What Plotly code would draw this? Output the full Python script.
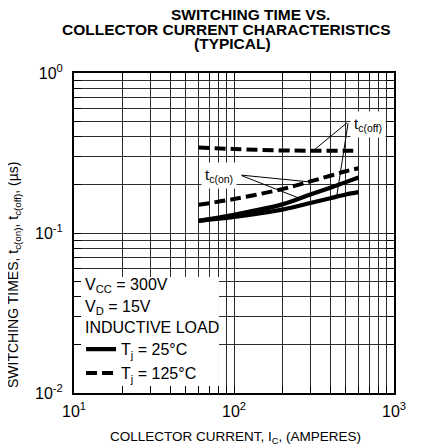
import math
import plotly.graph_objects as go

# ---- data ----
ic = [60, 100, 200, 300, 400, 500, 600]                       # collector current (A)
tc_on_25 = [0.119, 0.130, 0.151, 0.174, 0.192, 0.208, 0.222]   # us
tc_off_25 = [0.119, 0.126, 0.140, 0.154, 0.165, 0.174, 0.180]  # us
tc_on_125 = [0.150, 0.163, 0.188, 0.210, 0.228, 0.243, 0.254]  # us
tc_off_125 = [0.342, 0.335, 0.328, 0.327, 0.327, 0.327, 0.327] # us

x_tickvals = [m * 10 ** e for e in (1, 2) for m in range(1, 10)] + [1000]
x_ticktext = ["10<sup>1</sup>"] + [""] * 8 + ["10<sup>2</sup>"] + [""] * 8 + ["10<sup>3</sup>"]
y_tickvals = [m * 10 ** e for e in (-2, -1) for m in range(1, 10)] + [1]
y_ticktext = ["10<sup>-2</sup>"] + [""] * 8 + ["10<sup>-1</sup>"] + [""] * 8 + ["10<sup>0</sup>"]

FONT = "Liberation Sans, Arial, Helvetica, sans-serif"
L = math.log10

fig = go.Figure()
fig.add_trace(go.Scatter(x=ic, y=tc_on_25, mode="lines", name="T<sub>j</sub> = 25°C",
                         legendgroup="a", line=dict(color="black", width=4.2, shape="spline")))
fig.add_trace(go.Scatter(x=ic, y=tc_off_25, mode="lines", showlegend=False,
                         legendgroup="a", line=dict(color="black", width=4.2, shape="spline")))
fig.add_trace(go.Scatter(x=ic, y=tc_on_125, mode="lines", name="T<sub>j</sub> = 125°C",
                         legendgroup="b", line=dict(color="black", width=4, dash="11px,5px", shape="spline")))
fig.add_trace(go.Scatter(x=ic, y=tc_off_125, mode="lines", showlegend=False,
                         legendgroup="b", line=dict(color="black", width=4, dash="11px,5px", shape="spline")))

axis_common = dict(
    type="log", showgrid=True, gridcolor="#2b2b2b", gridwidth=1.3,
    showline=True, linecolor="black", linewidth=2, mirror="allticks",
    ticks="inside", ticklen=7, tickcolor="black", tickwidth=1.3,
    tickfont=dict(family=FONT, size=16, color="black"), zeroline=False,
)

fig.update_xaxes(range=[1, 3], tickmode="array", tickvals=x_tickvals, ticktext=x_ticktext,
                 ticklabelstandoff=3, **axis_common)
fig.update_yaxes(range=[-2, 0], tickmode="array", tickvals=y_tickvals, ticktext=y_ticktext,
                 ticklabelstandoff=6, **axis_common)

# white panel behind the conditions/legend text (covers the grid, leaves short tick stubs at the edges)
shapes = [dict(type="rect", xref="paper", yref="paper", x0=0.022, x1=0.453, y0=0.022, y1=0.3625,
               fillcolor="white", line=dict(width=0), layer="above")]

ann = []
# title lines
for txt, cx, cy in [("SWITCHING TIME VS.", 250, 14.2),
                    ("COLLECTOR CURRENT CHARACTERISTICS", 226.5, 29.0),
                    ("(TYPICAL)", 232, 43.0)]:
    ann.append(dict(text="<b>" + txt + "</b>", xref="paper", yref="paper",
                    x=(cx - 74) / 320, y=(393 - cy) / 320, xanchor="center", yanchor="middle",
                    showarrow=False, font=dict(family=FONT, size=15.5, color="black")))
# axis titles
ann.append(dict(text="COLLECTOR CURRENT, I<sub>C</sub>, (AMPERES)", xref="paper", yref="paper",
                x=(235 - 74) / 320, y=(393 - 437) / 320, xanchor="center", yanchor="middle",
                showarrow=False, font=dict(family=FONT, size=13.5, color="black")))
ann.append(dict(text="SWITCHING TIMES, t<sub>c(on)</sub>, t<sub>c(off)</sub>, (µs)", xref="paper", yref="paper",
                x=(14 - 74) / 320, y=(393 - 275) / 320, xanchor="center", yanchor="middle",
                textangle=-90, showarrow=False, font=dict(family=FONT, size=14, color="black")))
# conditions
for txt, cy in [("V<sub>CC</sub> = 300V", 285), ("V<sub>D</sub> = 15V", 307), ("INDUCTIVE LOAD", 327)]:
    ann.append(dict(text=txt, xref="paper", yref="paper", x=(83 - 74) / 320, y=(393 - cy) / 320,
                    xanchor="left", yanchor="middle", showarrow=False,
                    font=dict(family=FONT, size=16, color="black")))
# curve labels
ann.append(dict(text="t<sub>c(on)</sub>", x=L(80.5), y=L(0.229), showarrow=False, bgcolor="white",
                borderpad=3, font=dict(family=FONT, size=15, color="black")))
ann.append(dict(text="t<sub>c(off)</sub>", x=L(690), y=L(0.478), showarrow=False, bgcolor="white",
                borderpad=3, font=dict(family=FONT, size=15, color="black")))
# leader lines
for (tx, ty), (hx, hy) in [((109, 0.2304), (306, 0.208)), ((109, 0.2304), (252, 0.166)),
                           ((518, 0.496), (313, 0.327)), ((518, 0.496), (438, 0.168))]:
    ann.append(dict(text="", x=L(hx), y=L(hy), ax=L(tx), ay=L(ty), axref="x", ayref="y",
                    showarrow=True, arrowhead=0, arrowwidth=1, arrowcolor="black",
                    standoff=0, startstandoff=0))

# the page body has an 8px margin, so the figure is made 8px smaller and margins shifted
fig.update_layout(
    width=414, height=437, autosize=False,
    margin=dict(l=66, r=28, t=65, b=52),
    paper_bgcolor="white", plot_bgcolor="white",
    font=dict(family=FONT, color="black"),
    annotations=ann,
    shapes=shapes,
    showlegend=True,
    legend=dict(x=0.022, y=0.19, xanchor="left", yanchor="top", bgcolor="rgba(0,0,0,0)",
                borderwidth=0, tracegroupgap=0, font=dict(family=FONT, size=16, color="black")),
)

fig.write_html("out.html")
